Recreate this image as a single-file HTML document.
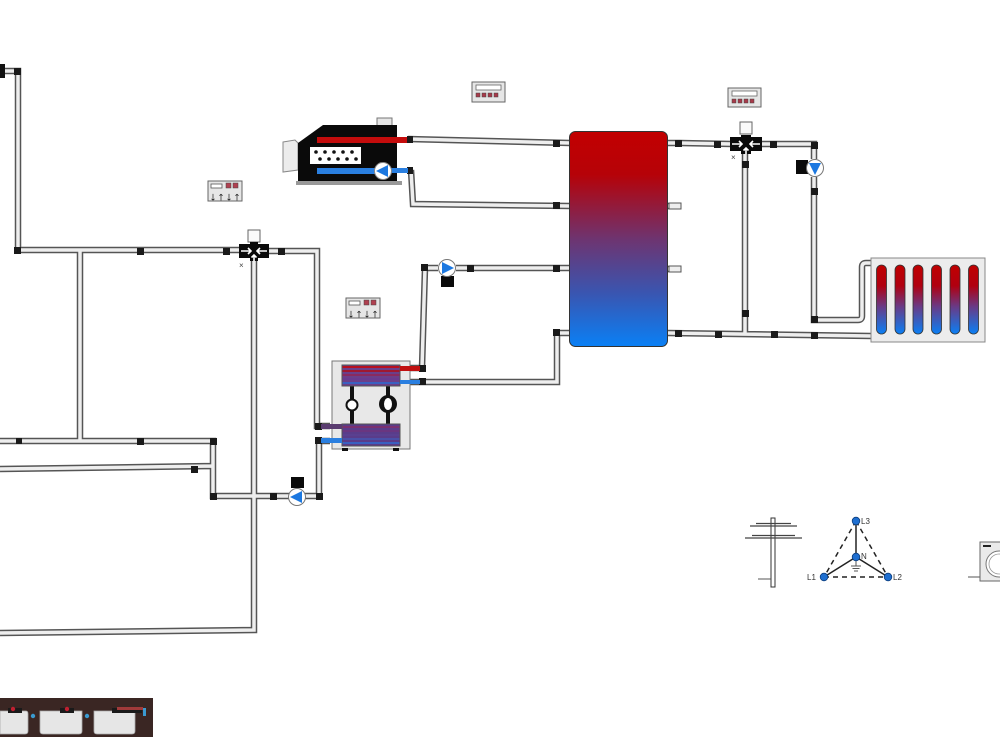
<!DOCTYPE html>
<html><head><meta charset="utf-8">
<style>
html,body{margin:0;padding:0;background:#fff;}
svg{display:block;}
text{font-family:"Liberation Sans",sans-serif;}
</style></head>
<body>
<svg width="1000" height="750" viewBox="0 0 1000 750" xmlns="http://www.w3.org/2000/svg">
<defs>
<linearGradient id="tankg" x1="0" y1="0" x2="0" y2="1">
<stop offset="0" stop-color="#c20000"/>
<stop offset="0.2" stop-color="#b60208"/>
<stop offset="0.5" stop-color="#6e3470"/>
<stop offset="0.75" stop-color="#3a55b0"/>
<stop offset="1" stop-color="#0a80f5"/>
</linearGradient>
<linearGradient id="radg" x1="0" y1="0" x2="0" y2="1">
<stop offset="0" stop-color="#c00000"/>
<stop offset="0.3" stop-color="#b00010"/>
<stop offset="0.6" stop-color="#6a3a85"/>
<stop offset="1" stop-color="#0a80f5"/>
</linearGradient>
<path id="pipes" d="M0,71 H18 V250 H242
M80,250 V441
M0,441 H213 V496 H289
M0,469 L213,466
M305,496 H319 V441 H330
M268,251 H317 V426 H330
M254,259 V630 L0,633
M410,368 H422 L425,268 H438
M456,268 H570
M410,382 H557 V333 H570
M408,139 L570,143
M411,170 L413,204 L570,206
M668,143 L680,143 L732,144
M760,144 H814 V159
M814,177 V320 H858 Q862,320 862,316 V267 Q862,263 866,263 H871
M745,153 V333
M668,333 L871,336
M668,206 H681
M668,269 H681"/>
</defs>

<!-- pipes -->
<g fill="none" stroke-linejoin="miter">
<use href="#pipes" stroke="#555" stroke-width="6.5"/>
<use href="#pipes" stroke="#eeeeee" stroke-width="3.5"/>
</g>

<!-- top-left fitting -->
<rect x="0" y="64" width="5" height="14" fill="#111"/>

<!-- joints -->
<g fill="#1a1a1a">
<rect x="14" y="68" width="7" height="7"/>
<rect x="14" y="247" width="7" height="7"/>
<rect x="137" y="248" width="7" height="7"/>
<rect x="223" y="248" width="7" height="7"/>
<rect x="278" y="248" width="7" height="7"/>
<rect x="16" y="438" width="6" height="6"/>
<rect x="137" y="438" width="7" height="7"/>
<rect x="210" y="438" width="7" height="7"/>
<rect x="191" y="466" width="7" height="7"/>
<rect x="210" y="493" width="7" height="7"/>
<rect x="270" y="493" width="7" height="7"/>
<rect x="316" y="493" width="7" height="7"/>
<rect x="315" y="437" width="7" height="7"/>
<rect x="315" y="423" width="7" height="7"/>
<rect x="419" y="365" width="7" height="7"/>
<rect x="419" y="378" width="7" height="7"/>
<rect x="421" y="264" width="7" height="7"/>
<rect x="467" y="265" width="7" height="7"/>
<rect x="553" y="140" width="7" height="7"/>
<rect x="553" y="202" width="7" height="7"/>
<rect x="553" y="265" width="7" height="7"/>
<rect x="553" y="329" width="7" height="7"/>
<rect x="675" y="140" width="7" height="7"/>
<rect x="675" y="330" width="7" height="7"/>
<rect x="714" y="141" width="7" height="7"/>
<rect x="770" y="141" width="7" height="7"/>
<rect x="811" y="142" width="7" height="7"/>
<rect x="742" y="161" width="7" height="7"/>
<rect x="742" y="310" width="7" height="7"/>
<rect x="811" y="188" width="7" height="7"/>
<rect x="811" y="316" width="7" height="7"/>
<rect x="715" y="331" width="7" height="7"/>
<rect x="771" y="331" width="7" height="7"/>
<rect x="811" y="332" width="7" height="7"/>
<rect x="407" y="136" width="6" height="7"/>
<rect x="407" y="167" width="6" height="7"/>
</g>

<!-- boiler -->
<path d="M283,142 L295,140 L298,143 V170 L283,172 Z" fill="#ececec" stroke="#888" stroke-width="1"/>
<rect x="377" y="118" width="15" height="8" fill="#e6e6e6" stroke="#777" stroke-width="1"/>
<path d="M323,125 H397 V182 H298 V143 Z" fill="#0a0a0a"/>
<rect x="296" y="181" width="106" height="4" fill="#999"/>
<rect x="317" y="137" width="90" height="6" fill="#c40c0c"/>
<rect x="310" y="147" width="51" height="17" fill="#fff"/>
<g fill="#111">
<circle cx="316" cy="152" r="1.8"/><circle cx="325" cy="152" r="1.8"/><circle cx="334" cy="152" r="1.8"/><circle cx="343" cy="152" r="1.8"/><circle cx="352" cy="152" r="1.8"/>
<circle cx="320" cy="159" r="1.8"/><circle cx="329" cy="159" r="1.8"/><circle cx="338" cy="159" r="1.8"/><circle cx="347" cy="159" r="1.8"/><circle cx="356" cy="159" r="1.8"/>
</g>
<rect x="317" y="168" width="60" height="6" fill="#2a7fe0"/>
<rect x="390" y="168" width="18" height="5" fill="#2a7fe0"/>
<circle cx="383" cy="171" r="8.5" fill="#fff" stroke="#888" stroke-width="1"/>
<path d="M376,171 L388,165 L388,177 Z" fill="#1c78e0"/>

<!-- controllers -->
<g>
<rect x="472" y="82" width="33" height="20" fill="#e6e6e6" stroke="#666" stroke-width="1"/>
<rect x="476" y="85" width="25" height="5" fill="#fff" stroke="#666" stroke-width="0.8"/>
<g fill="#a83a4a" stroke="#444" stroke-width="0.5"><rect x="476" y="93" width="4" height="4"/><rect x="482" y="93" width="4" height="4"/><rect x="488" y="93" width="4" height="4"/><rect x="494" y="93" width="4" height="4"/></g>
</g>
<g>
<rect x="728" y="88" width="33" height="19" fill="#e6e6e6" stroke="#666" stroke-width="1"/>
<rect x="732" y="91" width="25" height="5" fill="#fff" stroke="#666" stroke-width="0.8"/>
<g fill="#a83a4a" stroke="#444" stroke-width="0.5"><rect x="732" y="99" width="4" height="4"/><rect x="738" y="99" width="4" height="4"/><rect x="744" y="99" width="4" height="4"/><rect x="750" y="99" width="4" height="4"/></g>
</g>
<g>
<rect x="208" y="181" width="34" height="20" fill="#e6e6e6" stroke="#666" stroke-width="1"/>
<rect x="211" y="184" width="11" height="4" fill="#fff" stroke="#555" stroke-width="0.8"/>
<rect x="226" y="183" width="5" height="5" fill="#b04050" stroke="#444" stroke-width="0.5"/>
<rect x="233" y="183" width="5" height="5" fill="#b04050" stroke="#444" stroke-width="0.5"/>
<text x="209" y="200" font-size="11" font-weight="bold" fill="#111" textLength="32" lengthAdjust="spacingAndGlyphs">↓↑↓↑</text>
</g>
<g>
<rect x="346" y="298" width="34" height="20" fill="#e6e6e6" stroke="#666" stroke-width="1"/>
<rect x="349" y="301" width="11" height="4" fill="#fff" stroke="#555" stroke-width="0.8"/>
<rect x="364" y="300" width="5" height="5" fill="#b04050" stroke="#444" stroke-width="0.5"/>
<rect x="371" y="300" width="5" height="5" fill="#b04050" stroke="#444" stroke-width="0.5"/>
<text x="347" y="317" font-size="11" font-weight="bold" fill="#111" textLength="32" lengthAdjust="spacingAndGlyphs">↓↑↓↑</text>
</g>

<!-- left mixing valve -->
<rect x="248" y="230" width="12" height="12" fill="#fafafa" stroke="#666" stroke-width="1"/>
<path d="M239,244 H250 V242 H258 V244 H269 V258 H258 V261 H250 V258 H239 Z" fill="#0a0a0a"/>
<path d="M241,251 L251,251 M248,248 L251,251 L248,254 M267,251 L257,251 M260,248 L257,251 L260,254 M254,261 L254,255 M251.5,257.5 L254,255 L256.5,257.5" stroke="#fff" stroke-width="1.6" fill="none"/>
<text x="239" y="268" font-size="8" fill="#444">×</text>

<!-- right mixing valve -->
<rect x="740" y="122" width="12" height="12" fill="#fafafa" stroke="#666" stroke-width="1"/>
<path d="M730,137 H741 V135 H751 V137 H762 V151 H751 V154 H741 V151 H730 Z" fill="#0a0a0a"/>
<path d="M732,144 L742,144 M739,141 L742,144 L739,147 M760,144 L750,144 M753,141 L750,144 L753,147 M746,154 L746,148 M743.5,150.5 L746,148 L748.5,150.5" stroke="#fff" stroke-width="1.6" fill="none"/>
<text x="731" y="160" font-size="8" fill="#444">×</text>

<!-- pumps -->
<rect x="291" y="477" width="13" height="11" fill="#0a0a0a"/>
<circle cx="297" cy="497" r="8.5" fill="#fff" stroke="#777" stroke-width="1"/>
<path d="M290,497 L302,491 L302,503 Z" fill="#1c78e0"/>

<rect x="441" y="276" width="13" height="11" fill="#0a0a0a"/>
<circle cx="447" cy="268" r="8.5" fill="#fff" stroke="#777" stroke-width="1"/>
<path d="M454,268 L442,262 L442,274 Z" fill="#1c78e0"/>

<rect x="796" y="160" width="12" height="14" fill="#0a0a0a"/>
<circle cx="815" cy="168" r="8.5" fill="#fff" stroke="#777" stroke-width="1"/>
<path d="M815,175 L809,163 L821,163 Z" fill="#1c78e0"/>

<!-- heat exchanger -->
<rect x="332" y="361" width="78" height="88" fill="#e8e8e8" stroke="#777" stroke-width="1"/>
<rect x="342" y="448" width="6" height="3" fill="#111"/>
<rect x="393" y="448" width="6" height="3" fill="#111"/>
<rect x="350" y="384" width="4" height="40" fill="#111"/>
<rect x="386" y="384" width="4" height="40" fill="#111"/>
<circle cx="352" cy="405" r="5.5" fill="#fff" stroke="#111" stroke-width="2"/>
<circle cx="388" cy="404" r="9" fill="#111"/>
<ellipse cx="388" cy="404" rx="4" ry="6" fill="#fff"/>
<g>
<rect x="342" y="365" width="58" height="21" fill="#6b3f8a"/>
<rect x="342" y="366" width="58" height="2" fill="#b81020"/>
<rect x="342" y="370" width="58" height="2" fill="#a01830"/>
<rect x="342" y="374" width="58" height="2" fill="#8a2a60"/>
<rect x="342" y="378" width="58" height="2" fill="#6a3a90"/>
<rect x="342" y="382" width="58" height="2" fill="#3a60c0"/>
<rect x="342" y="365" width="58" height="21" fill="none" stroke="#555" stroke-width="1"/>
</g>
<g>
<rect x="342" y="424" width="58" height="22" fill="#5a3c8a"/>
<rect x="342" y="426" width="58" height="2" fill="#7a3070"/>
<rect x="342" y="430" width="58" height="2" fill="#6a3680"/>
<rect x="342" y="434" width="58" height="2" fill="#5a4090"/>
<rect x="342" y="438" width="58" height="2" fill="#4a50a8"/>
<rect x="342" y="442" width="58" height="2" fill="#3a60c0"/>
<rect x="342" y="424" width="58" height="22" fill="none" stroke="#555" stroke-width="1"/>
</g>
<rect x="400" y="366" width="20" height="5" fill="#c01010"/>
<rect x="400" y="380" width="20" height="4" fill="#2a7fe0"/>
<rect x="321" y="424" width="21" height="5" fill="#5a3c70"/>
<rect x="321" y="438" width="21" height="5" fill="#2a7fe0"/>

<!-- tank -->
<rect x="669" y="203" width="12" height="6" fill="#eee" stroke="#555" stroke-width="1"/>
<rect x="669" y="266" width="12" height="6" fill="#eee" stroke="#555" stroke-width="1"/>
<rect x="569.5" y="131.5" width="98" height="215" rx="6" fill="url(#tankg)" stroke="#333" stroke-width="1"/>

<!-- radiator -->
<rect x="871" y="258" width="114" height="84" fill="#ececec" stroke="#888" stroke-width="1"/>
<g fill="url(#radg)" stroke="#333" stroke-width="0.8">
<rect x="876.5" y="265" width="10" height="69" rx="5"/>
<rect x="895" y="265" width="10" height="69" rx="5"/>
<rect x="913" y="265" width="10" height="69" rx="5"/>
<rect x="931.5" y="265" width="10" height="69" rx="5"/>
<rect x="950" y="265" width="10" height="69" rx="5"/>
<rect x="968.5" y="265" width="10" height="69" rx="5"/>
</g>

<!-- pylon -->
<rect x="771" y="518" width="4" height="69" fill="#fff" stroke="#333" stroke-width="1"/>
<path d="M750,526 H797 M756,523.5 H791 M745,538 H802 M752,535.5 H795" stroke="#444" stroke-width="1.2" fill="none"/>
<line x1="758" y1="579" x2="771" y2="579" stroke="#555" stroke-width="1"/>

<!-- three-phase -->
<g stroke="#222" stroke-width="1.5" fill="none">
<line x1="856" y1="521" x2="856" y2="557"/>
<line x1="856" y1="557" x2="824" y2="577"/>
<line x1="856" y1="557" x2="888" y2="577"/>
</g>
<g stroke="#222" stroke-width="1.5" fill="none" stroke-dasharray="5,4">
<line x1="856" y1="521" x2="824" y2="577"/>
<line x1="856" y1="521" x2="888" y2="577"/>
<line x1="824" y1="577" x2="888" y2="577"/>
</g>
<path d="M856,557 V566 M851,566 H861 M852.5,568.5 H859.5 M854,571 H858" stroke="#555" stroke-width="1" fill="none"/>
<g fill="#1f6fd0" stroke="#0c3f80" stroke-width="0.8">
<circle cx="856" cy="521" r="3.8"/>
<circle cx="856" cy="557" r="3.8"/>
<circle cx="824" cy="577" r="3.8"/>
<circle cx="888" cy="577" r="3.8"/>
</g>
<g font-size="8" fill="#333">
<text x="861" y="524">L3</text>
<text x="861" y="559">N</text>
<text x="807" y="580">L1</text>
<text x="893" y="580">L2</text>
</g>

<!-- washing machine -->
<line x1="968" y1="577" x2="980" y2="577" stroke="#555" stroke-width="1"/>
<rect x="980" y="542" width="22" height="39" fill="#eaeaea" stroke="#666" stroke-width="1"/>
<rect x="983" y="545" width="8" height="2" fill="#222"/>
<circle cx="999" cy="564" r="13" fill="#fff" stroke="#777" stroke-width="1"/>
<circle cx="999" cy="564" r="10" fill="none" stroke="#999" stroke-width="0.8"/>

<!-- floor heating strip -->
<rect x="0" y="698" width="153" height="39" fill="#3a2623"/>
<g fill="#e6e6e6" stroke="#aaa" stroke-width="0.8">
<path d="M0,711 H26 Q28,711 28,714 V731 Q28,734 25,734 H0 Z"/>
<path d="M40,711 H82 V731 Q82,734 79,734 H43 Q40,734 40,731 Z"/>
<path d="M94,711 H135 V731 Q135,734 132,734 H97 Q94,734 94,731 Z"/>
</g>
<g fill="#1a1a1a">
<rect x="8" y="708" width="14" height="5"/>
<rect x="60" y="708" width="14" height="5"/>
<rect x="112" y="708" width="30" height="5"/>
</g>
<rect x="117" y="707" width="26" height="3" fill="#a03a3a"/>
<g fill="#c02030"><circle cx="13" cy="709" r="2.2"/><circle cx="67" cy="709" r="2.2"/></g>
<g fill="#3a9ad0"><circle cx="33" cy="716" r="2.2"/><circle cx="87" cy="716" r="2.2"/><rect x="143" y="708" width="3" height="8"/></g>
</svg>
</body></html>
